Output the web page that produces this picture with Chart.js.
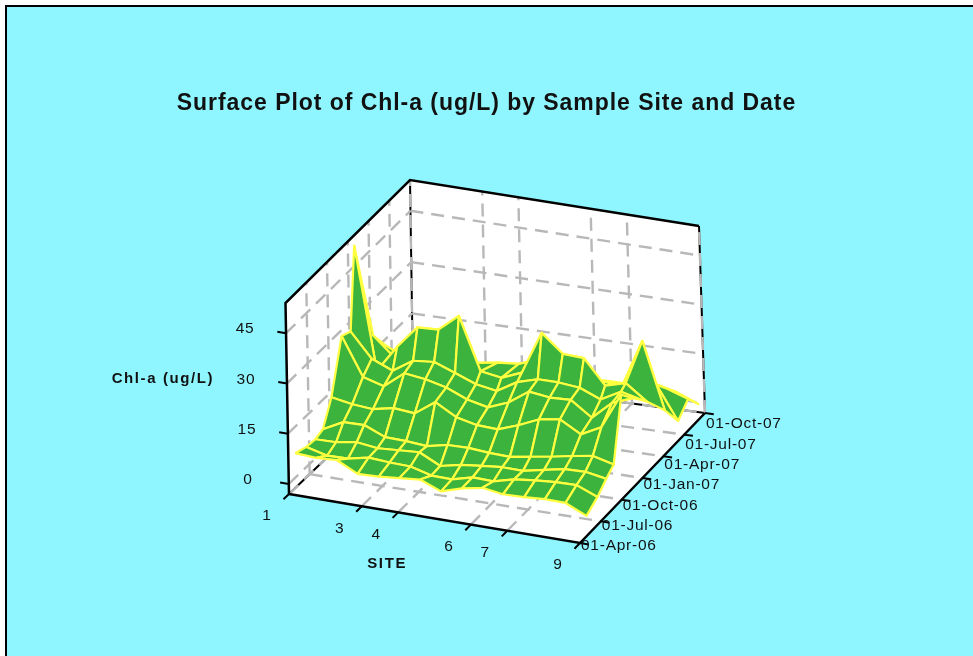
<!DOCTYPE html>
<html><head><meta charset="utf-8">
<style>
html,body{margin:0;padding:0;background:#fff;overflow:hidden}
#bg{position:absolute;left:5px;top:5px;width:968px;height:651px;box-sizing:border-box;border-left:2px solid #000;border-top:2px solid #000;background:#8ff6ff}
canvas{position:absolute;left:0;top:0}
</style>
<script src="https://cdn.jsdelivr.net/npm/chart.js@4"></script>
</head><body><div id="bg"></div><canvas id="c" width="973" height="656"></canvas>
<script>
const titleText = "Surface Plot of Chl-a (ug/L) by Sample Site and Date";
const siteStops = [1,1.57,2.14,2.71,3.29,3.86,4.43,5,5.57,6.14,6.71,7.29,7.86,8.43,9];
const sampleMonths = [1,2.6,3.9,5,6.3,7.9,9.2,9.9,12.4,14.2,15.7,17.1];
const chlMonth1  = [7.2,6.8,7.2,4.1,4.3,4.9,5.5,3.0,4.9,6.1,5.2,5.4,5.8,5.7,2.9];
const chlMonth2  = [5.9,4.3,4.4,5.7,5.3,5.1,3.4,3.3,4.9,4.7,6.3,7.0,7.5,7.6,5.1];
const chlMonth3  = [5.6,5.7,6.7,5.9,6.3,6.7,3.6,4.9,5.6,6.2,6.1,7.4,8.6,8.8,7.7];
const chlMonth4  = [6.4,9.5,9.6,7,6.8,6.3,7.6,7.7,7.2,7,8,9,10.2,11.2,9.6];
const chlMonth5  = [13.3,12.2,11.7,13,12.4,16.7,13.2,11.8,11.5,13.7,16.4,17.4,13.9,17,27.7];
const chlMonth6  = [28.3,17.1,15.3,20.1,19.3,17.8,15.2,13.8,16.2,20.4,19.6,19.9,15.5,20.9,23.3];
const chlMonth7  = [27,19.9,17.3,21.2,21.8,19.5,17.1,16,19.6,21.4,21.4,20.8,18.2,21.5,20];
const chlMonth8  = [51,15,23,29.7,30,35,19.5,18.5,21,33.8,28.5,28.2,20.9,22.6,18];
const chlMonth9  = [19.5,14,12,14,15,16,17,17.5,19.7,14,14,13,16,30,10];
const chlMonth10 = [13,10,9,10,11,11,11,10.8,10,10,10,9,12,13,2.9];
const chlMonth11 = [7.5,7,7,8,8,8,8,8,8,8,8,7,8,8.5,6.3];
const chlMonth12 = [3.8,4,5,5,5,5,5,5,5,5,5,5,6,4.4,1.7];
const chlRows = [chlMonth1,chlMonth2,chlMonth3,chlMonth4,chlMonth5,chlMonth6,chlMonth7,chlMonth8,chlMonth9,chlMonth10,chlMonth11,chlMonth12];
const zTicks = [0,15,30,45];
const siteTicks = [1,3,4,6,7,9];
const dateMonths = [0,3,6,9,12,15,18];
const dateLabels = ["01-Apr-06","01-Jul-06","01-Oct-06","01-Jan-07","01-Apr-07","01-Jul-07","01-Oct-07"];
const zLabelTitle = "Chl-a (ug/L)";
const siteLabelTitle = "SITE";

// view box of the 3D plot
const siteMin=1, siteMax=9, monthMin=0, monthMax=18, zMin=-3, zMax=54;
const box = {
  fb:[[289,494],[285.5,303]], rb:[[580,543],[576,350]],
  fB:[[413,375],[410,180]],   rB:[[705,413],[699,226]]
};
function lerp(a,b,t){return a+(b-a)*t}
function proj(site,month,z){
  const u=(site-siteMin)/(siteMax-siteMin), v=(month-monthMin)/(monthMax-monthMin), w=(z-zMin)/(zMax-zMin);
  const out={};
  [0,1].forEach(k=>{
    const a=lerp(box.fb[0][k],box.fb[1][k],w), b=lerp(box.rb[0][k],box.rb[1][k],w),
          c=lerp(box.fB[0][k],box.fB[1][k],w), d=lerp(box.rB[0][k],box.rB[1][k],w);
    out[k?'y':'x']=lerp(lerp(a,b,u),lerp(c,d,u),v);
  });
  return out;
}
const datasets=[];
function add(points,opt){
  datasets.push(Object.assign({data:points,showLine:true,pointRadius:0,tension:0,fill:false,borderColor:'#000',borderWidth:2,clip:false,order:-datasets.length},opt));
}
const WHITE={fill:'shape',backgroundColor:'#fff',borderColor:'#fff',borderWidth:1};
// walls
add([[1,0,zMin],[1,0,zMax],[1,18,zMax],[1,18,zMin],[1,0,zMin]].map(p=>proj(...p)),WHITE);
add([[1,18,zMin],[1,18,zMax],[9,18,zMax],[9,18,zMin],[1,18,zMin]].map(p=>proj(...p)),WHITE);
add([[1,0,zMin],[9,0,zMin],[9,18,zMin],[1,18,zMin],[1,0,zMin]].map(p=>proj(...p)),WHITE);
// black rear frame
add([proj(1,18,zMin),proj(1,18,zMax)],{});
add([proj(9,18,zMin),proj(9,18,zMax)],{});
add([proj(1,0,zMin),proj(1,18,zMin)],{});
add([proj(1,18,zMin),proj(9,18,zMin)],{});
// gridlines
const GRID={borderColor:'#b8b8b8',borderWidth:2.4,borderDash:[13,8]};
add([proj(1,18,zMin),proj(1,18,zMax)],GRID);
add([proj(9,18,zMin),proj(9,18,zMax)],GRID);
add([proj(1,0,zMin),proj(1,18,zMin)],GRID);
add([proj(1,18,zMin),proj(9,18,zMin)],GRID);
zTicks.forEach(z=>{
  add([proj(1,18,z),proj(9,18,z)],GRID);
  add([proj(1,0,z),proj(1,18,z)],GRID);
});
siteTicks.slice(1,-1).forEach(s=>{
  add([proj(s,18,zMin),proj(s,18,zMax)],GRID);
  add([proj(s,0,zMin),proj(s,18,zMin)],GRID);
});
dateMonths.slice(1,-1).forEach(m=>{
  add([proj(1,m,zMin),proj(1,m,zMax)],GRID);
  add([proj(1,m,zMin),proj(9,m,zMin)],GRID);
});
// surface, back to front
for(let r=sampleMonths.length-2;r>=0;r--){
  for(let c=0;c<siteStops.length-1;c++){
    const m0=sampleMonths[r],m1=sampleMonths[r+1],s0=siteStops[c],s1=siteStops[c+1];
    add([proj(s0,m0,chlRows[r][c]),proj(s1,m0,chlRows[r][c+1]),proj(s1,m1,chlRows[r+1][c+1]),proj(s0,m1,chlRows[r+1][c]),proj(s0,m0,chlRows[r][c])],
      {fill:'shape',backgroundColor:'#3cb33c',borderColor:'#ffff40',borderWidth:2.2,borderJoinStyle:'round'});
  }
}
// front frame and ticks
add([proj(1,0,zMin),proj(1,0,zMax),proj(1,18,zMax),proj(9,18,zMax)],{borderWidth:2.5});
add([proj(1,0,zMin),proj(9,0,zMin),proj(9,18,zMin)],{borderWidth:2.5});
const tickU=0.24, tickV=0.8;
zTicks.forEach(z=>add([proj(1,0,z),proj(1-tickU,0,z)],{}));
siteTicks.forEach(s=>add([proj(s,0,zMin),proj(s,-tickV,zMin)],{}));
dateMonths.forEach(m=>add([proj(9,m,zMin),proj(9+tickU,m,zMin)],{}));

const labels={id:'labels',
  beforeDraw(chart){chart.ctx.letterSpacing='0.95px'},
  afterDatasetsDraw(chart){
    const ctx=chart.ctx,X=chart.scales.x,Y=chart.scales.y;
    const px=p=>({x:X.getPixelForValue(p.x),y:Y.getPixelForValue(p.y)});
    ctx.save();
    ctx.fillStyle='#111';ctx.textBaseline='middle';
    ctx.font='15.5px "Liberation Sans"';ctx.letterSpacing='0.75px';
    ctx.textAlign='center';
    zTicks.forEach(z=>{const p=px(proj(1,0,z));ctx.fillText(String(z),p.x-41,p.y-4)});
    siteTicks.forEach(s=>{const p=px(proj(s,0,zMin));ctx.fillText(String(s),p.x-22,p.y+22)});
    ctx.textAlign='left';
    dateMonths.forEach((m,i)=>{const p=px(proj(9,m,zMin));ctx.fillText(dateLabels[i],p.x+1,p.y+3+8*m/monthMax)});
    ctx.font='bold 15px "Liberation Sans"';ctx.letterSpacing='1.6px';ctx.textAlign='center';
    const zc=px(proj(1,0,15));ctx.fillText(zLabelTitle,zc.x-125,zc.y-55);
    const sc=px(proj(4,0,zMin));ctx.fillText(siteLabelTitle,sc.x-11,sc.y+51);
    ctx.restore();
  },
  afterDraw(chart){chart.ctx.letterSpacing='0px'}
};
new Chart(document.getElementById('c'),{
  type:'scatter',
  data:{datasets},
  plugins:[labels],
  options:{
    responsive:false,animation:false,events:[],
    layout:{padding:0},
    scales:{x:{type:'linear',display:false,min:0,max:973},y:{type:'linear',display:false,reverse:true,min:120,max:656}},
    plugins:{
      legend:{display:false},tooltip:{enabled:false},
      title:{display:true,text:titleText,color:'#111',font:{family:'"Liberation Sans"',size:23,weight:'bold'},padding:{top:90.2,bottom:2.2}}
    }
  }
});
</script>
</body></html>
